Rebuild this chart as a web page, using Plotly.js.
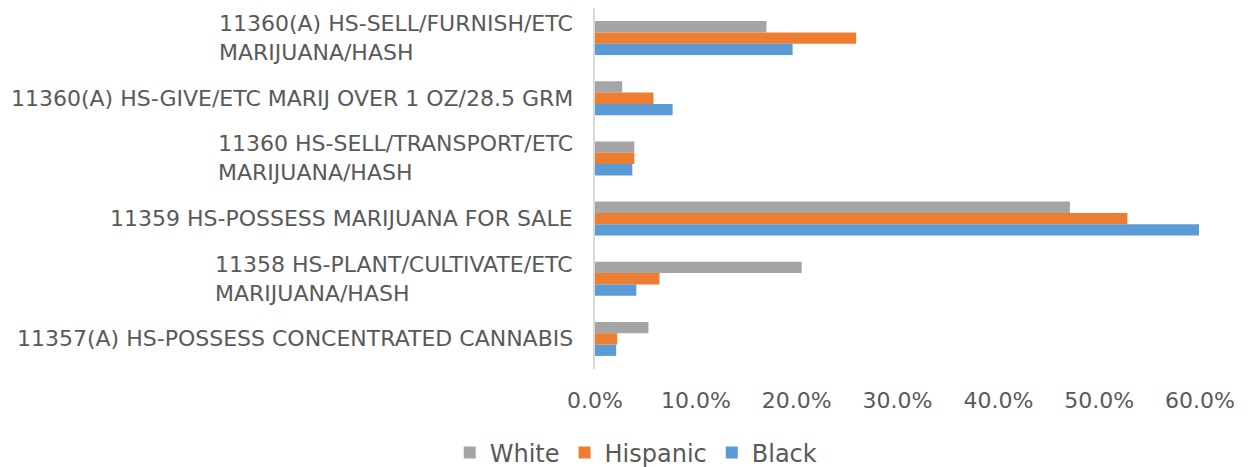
<!DOCTYPE html>
<html>
<head>
<meta charset="utf-8">
<script src="https://cdn.plot.ly/plotly-3.0.1.min.js"></script>
<style>html,body{margin:0;padding:0;background:#fff;}#chart{width:1250px;height:467px;}</style>
</head>
<body>
<div id="chart"></div>
<script>
// Categories, top to bottom as displayed
const categories = [
  "11360(A) HS-SELL/FURNISH/ETC<br>MARIJUANA/HASH",
  "11360(A) HS-GIVE/ETC MARIJ OVER 1 OZ/28.5 GRM",
  "11360 HS-SELL/TRANSPORT/ETC<br>MARIJUANA/HASH",
  "11359 HS-POSSESS MARIJUANA FOR SALE",
  "11358 HS-PLANT/CULTIVATE/ETC<br>MARIJUANA/HASH",
  "11357(A) HS-POSSESS CONCENTRATED CANNABIS"
];
const seriesNames = ["White", "Hispanic", "Black"];
const white    = [0.170, 0.027, 0.039, 0.471, 0.205, 0.053];
const hispanic = [0.259, 0.058, 0.039, 0.528, 0.064, 0.022];
const black    = [0.196, 0.077, 0.037, 0.599, 0.041, 0.021];
const colors = ["#A5A5A5", "#ED7D31", "#5B9BD5"];
const xTickVals = [0, 0.1, 0.2, 0.3, 0.4, 0.5, 0.6];

const values = [white, hispanic, black];
const traces = seriesNames.map((name, i) => ({
  type: "bar",
  orientation: "h",
  name: name,
  y: categories,
  x: values[i],
  marker: { color: colors[i] },
  hoverinfo: "x+name"
}));

const textColor = "#595959";
const fontFamily = "DejaVu Sans, sans-serif";

const annotations = categories.map(c => ({
  xref: "paper", yref: "y",
  x: 0, y: c,
  xanchor: "right", yanchor: "middle",
  xshift: -20,
  align: "left",
  text: c,
  showarrow: false,
  font: { family: fontFamily, size: 22, color: textColor }
}));

const layout = {
  width: 1250, height: 467,
  margin: { l: 595, r: 50, t: 8, b: 98 },
  paper_bgcolor: "#ffffff",
  plot_bgcolor: "#ffffff",
  barmode: "group",
  bargap: 0.435,
  bargroupgap: 0,
  font: { family: fontFamily, color: textColor },
  xaxis: {
    range: [0, 0.6],
    tickvals: xTickVals,
    tickformat: ".1%",
    showgrid: false, zeroline: false, showline: false,
    ticks: "outside", ticklen: 12, tickcolor: "rgba(0,0,0,0)",
    tickfont: { family: fontFamily, size: 22, color: textColor },
    fixedrange: true
  },
  yaxis: {
    type: "category",
    autorange: "reversed",
    showticklabels: false,
    showgrid: false, zeroline: false,
    showline: true, linecolor: "#D9D9D9", linewidth: 2,
    ticks: "",
    fixedrange: true
  },
  annotations: annotations,
  showlegend: true,
  legend: {
    orientation: "h",
    xref: "container", yref: "container",
    x: 0.509, xanchor: "center",
    y: 0.03, yanchor: "middle",
    font: { family: fontFamily, size: 24, color: textColor },
    itemclick: false
  }
};

Plotly.newPlot("chart", traces, layout, { displayModeBar: false, staticPlot: true });
</script>
</body>
</html>
